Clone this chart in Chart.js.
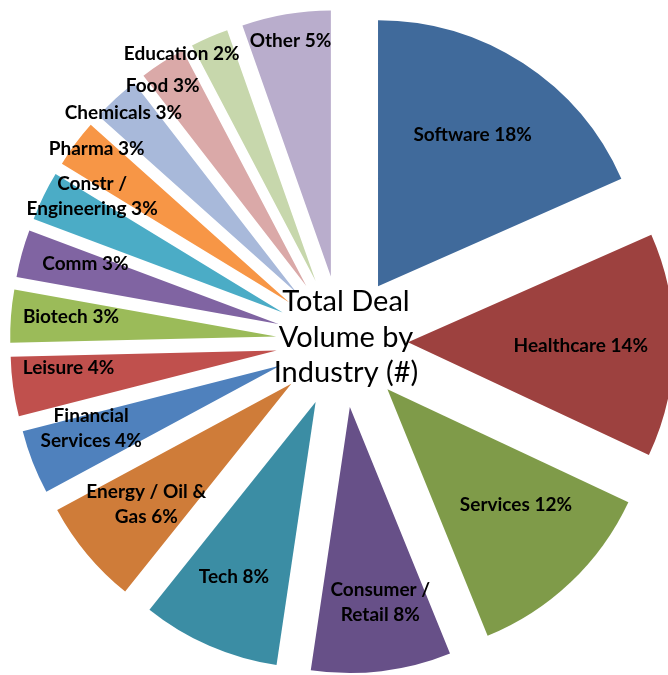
<!DOCTYPE html>
<html>
<head>
<meta charset="utf-8">
<title>Total Deal Volume by Industry (#)</title>
<script src="https://cdn.jsdelivr.net/npm/chart.js@4.4.1/dist/chart.umd.min.js"></script>
<style>
  html, body { margin: 0; padding: 0; background: #fff; }
  #chart { display: block; }
</style>
</head>
<body>
<canvas id="chart" width="668" height="675"></canvas>
<script>
// industries, clockwise from 12 o'clock (\n = where the label wraps)
const industries = ['Software', 'Healthcare', 'Services', 'Consumer /\nRetail', 'Tech',
  'Energy / Oil &\nGas', 'Financial\nServices', 'Leisure', 'Biotech', 'Comm',
  'Constr /\nEngineering', 'Pharma', 'Chemicals', 'Food', 'Education', 'Other'];

// share of deals
const dealShare = [18.4, 13.6, 11.9, 8.5, 8.4, 6.4, 3.9, 3.6, 3.2, 2.9, 3.0, 2.9, 2.9, 2.8, 2.3, 5.4];

const sliceColors = ['#406A9B', '#9D413F', '#7F9B49', '#675088', '#3B8DA4', '#CF7C39',
  '#4F81BD', '#C0504D', '#9BBB59', '#8064A2', '#4BACC6', '#F79646',
  '#A8B9DA', '#DAA9A8', '#C7D7AC', '#B9ADCC'];

const chartTitle = ['Total Deal', 'Volume by', 'Industry (#)'];

// layout of the exploded pie and its labels
const EXPLODE = 66;     // px every slice is pulled out from the centre
const RADIUS = 266;
const labelDepth = [0.67, 0.65, 0.65, 0.745, 0.725, 0.71, 0.75, 0.785, 0.775, 0.76, 0.84, 0.925, 0.94, 0.925, 0.99, 0.9];
const labelTurn = [-1, 0.5, -4.5, -2, 1.5, 0, 3, 3, 1, 2, 5.5, 2, -1, -3, -7, 0]; // degrees

const total = dealShare.reduce((a, b) => a + b, 0);
const pctText = dealShare.map(v => Math.round(v / total * 100) + '%');

const explodedPie = {
  id: 'explodedPie',
  beforeDatasetsDraw(chart) {
    const area = chart.chartArea;
    const cx = (area.left + area.right) / 2;
    const cy = (area.top + area.bottom) / 2;
    chart.getDatasetMeta(0).data.forEach(arc => {
      const mid = (arc.startAngle + arc.endAngle) / 2;
      arc.x = cx + EXPLODE * Math.cos(mid);
      arc.y = cy + EXPLODE * Math.sin(mid);
    });
  },
  afterDatasetsDraw(chart) {
    const ctx = chart.ctx;
    const area = chart.chartArea;
    const cx = (area.left + area.right) / 2;
    const cy = (area.top + area.bottom) / 2;
    ctx.save();
    ctx.fillStyle = '#000';
    ctx.textAlign = 'center';
    ctx.textBaseline = 'middle';

    // slice labels
    ctx.font = 'bold 19px Lato';
    chart.getDatasetMeta(0).data.forEach((arc, i) => {
      const a = (arc.startAngle + arc.endAngle) / 2 + labelTurn[i] * Math.PI / 180;
      const r = labelDepth[i] * arc.outerRadius;
      const x = arc.x + r * Math.cos(a);
      const y = arc.y + r * Math.sin(a);
      const lines = (industries[i] + ' ' + pctText[i]).split('\n');
      const lh = 25;
      lines.forEach((t, k) => {
        ctx.fillText(t, x, y + (k - (lines.length - 1) / 2) * lh);
      });
    });

    // title in the middle
    ctx.font = '29px Lato';
    ctx.textBaseline = 'alphabetic';
    const tl = 35.5;
    chartTitle.forEach((t, k) => {
      ctx.fillText(t, cx + 4, cy + 5 + (k - 1) * tl);
    });
    ctx.restore();
  }
};

new Chart(document.getElementById('chart'), {
  type: 'pie',
  data: {
    labels: industries,
    datasets: [{
      data: dealShare,
      backgroundColor: sliceColors,
      borderWidth: 0
    }]
  },
  options: {
    responsive: false,
    animation: false,
    events: [],
    radius: RADIUS,
    layout: { padding: { left: 16, top: 8 } },
    plugins: {
      legend: { display: false },
      tooltip: { enabled: false }
    }
  },
  plugins: [explodedPie]
});
</script>
</body>
</html>
